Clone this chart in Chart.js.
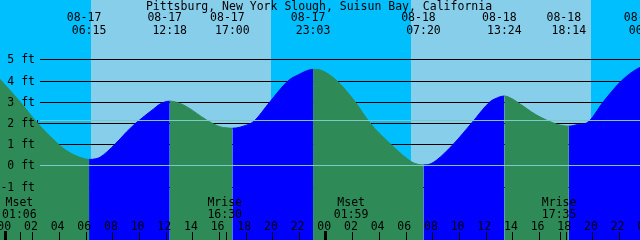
<!DOCTYPE html>
<html>
<head>
<meta charset="utf-8">
<script src="https://cdn.jsdelivr.net/npm/chart.js@4.4.0/dist/chart.umd.min.js"></script>
<style>
  body { margin: 0; background: #00bfff; }
  canvas { display: block; }
</style>
</head>
<body>
<canvas id="tideChart" width="640" height="240"></canvas>
<script>
const TITLE = 'Pittsburg, New York Slough, Suisun Bay, California';

// hours since 08-17 00:00 and tide height in ft
const tideHours = [-0.43, 1.07, 2.37, 3.95, 4.57, 5.32, 5.8, 6.25,
  6.75, 7.07, 8.2, 9.07, 9.77, 11.07, 11.57, 12.3,
  13.07, 13.57, 15.07, 16.07, 16.57, 17.0,
  17.57, 17.82, 18.55, 19.82, 21.2, 22.07, 22.57, 23.05,
  23.57, 24.82, 26.2, 27.32, 28.87, 30.07, 30.57, 31.33,
  31.82, 32.32, 33.57, 34.95, 36.32, 36.7, 37.4,
  37.95, 38.33, 39.82, 41.07, 41.57, 42.23,
  42.95, 43.57, 44.82, 46.2, 47.57, 48.1];
const tideFeet = [4.06, 3.0, 2.0, 1.0, 0.69, 0.44, 0.33, 0.28,
  0.31, 0.38, 1.0, 1.58, 2.0, 2.65, 2.89, 3.03,
  2.92, 2.77, 2.14, 1.82, 1.77, 1.75,
  1.8, 1.85, 2.05, 3.0, 4.0, 4.31, 4.46, 4.53,
  4.5, 4.0, 3.0, 2.0, 1.0, 0.33, 0.12, 0.02,
  0.06, 0.25, 1.0, 2.0, 3.0, 3.14, 3.27,
  3.15, 3.0, 2.37, 2.0, 1.9, 1.85,
  1.93, 2.0, 3.0, 4.0, 4.62, 4.68];

// highs and lows labelled along the top
const eventHours = [6.25, 12.3, 17.0, 23.05, 31.33, 37.4, 42.23, 48.03];
const eventDates = ['08-17', '08-17', '08-17', '08-17', '08-18', '08-18', '08-18', '08-19'];
const eventTimes = ['06:15', '12:18', '17:00', '23:03', '07:20', '13:24', '18:14', '00:02'];

// moon rise / set along the bottom
const moonHours = [1.1, 16.5, 25.98, 41.58];
const moonNames = ['Mset', 'Mrise', 'Mset', 'Mrise'];
const moonTimes = ['01:06', '16:30', '01:59', '17:35'];

// daylight
const sunUp = [6.4, 30.4];
const sunDown = [19.9, 43.9];

const ftLevels = [-1, 0, 1, 2, 3, 4, 5];
const meanLevel = 2.12;
const hourTicks = [];
for (let h = 0; h <= 48; h += 2) hourTicks.push(h);

const NIGHT = '#00bfff';
const DAY = '#87ceeb';
const RISE = '#0000ff';
const FALL = '#2e8b57';
const DATUM = '#7fc8c8';
const FONT = '11.5px "DejaVu Sans Mono"';

const tidePainter = {
  id: 'tidePainter',
  beforeDatasetsDraw(chart) {
    const {ctx, chartArea: a, scales: {x, y}} = chart;
    ctx.save();
    ctx.fillStyle = NIGHT;
    ctx.fillRect(a.left, a.top, a.width, a.height);
    ctx.fillStyle = DAY;
    sunUp.forEach((h, i) => {
      const x0 = Math.round(x.getPixelForValue(h));
      const x1 = Math.round(x.getPixelForValue(sunDown[i]));
      ctx.fillRect(x0, a.top, x1 - x0, a.height);
    });
    ctx.fillStyle = '#000';
    ftLevels.filter(f => f !== 0).forEach(f => {
      const py = Math.round(y.getPixelForValue(f));
      ctx.fillRect(f === 2 ? 35 : 40, py, a.right, 1);
      if (f === 2) ctx.fillRect(37, py - 3, 1, 7);
    });
    ctx.restore();
  },
  afterDatasetsDraw(chart) {
    const {ctx, chartArea: a, scales: {x, y}} = chart;
    ctx.save();
    // datum and mean level lines
    ctx.fillStyle = DATUM;
    [0, meanLevel].forEach(f => {
      ctx.fillRect(40, Math.round(y.getPixelForValue(f)), a.right, 1);
    });

    ctx.font = FONT;
    ctx.fillStyle = '#000';
    ctx.textBaseline = 'alphabetic';

    // title
    ctx.textAlign = 'center';
    ctx.fillText(TITLE, 319, 10);

    // high / low times
    eventHours.forEach((h, i) => {
      const px = x.getPixelForValue(h);
      ctx.fillText(eventDates[i], px - 5, 21);
      ctx.fillText(eventTimes[i], px, 33.5);
    });

    // ft labels
    ctx.textAlign = 'right';
    ftLevels.forEach(f => {
      ctx.fillText(f + ' ft', 35, Math.round(y.getPixelForValue(f)) + 4);
    });

    // moon events
    ctx.textAlign = 'center';
    moonHours.forEach((h, i) => {
      const px = x.getPixelForValue(h);
      ctx.fillText(moonNames[i], px - 1, 206);
      ctx.fillText(moonTimes[i], px - 1, 217.5);
      ctx.fillRect(Math.round(px), 232, 1, 8);
    });

    // hour labels and ticks
    hourTicks.forEach(h => {
      const px = x.getPixelForValue(h);
      ctx.fillText(String(h % 24).padStart(2, '0'), px - 1.5, 229.5);
      if (h % 24 === 0) ctx.fillRect(Math.round(px) - 2, 231, 3, 9);
      else ctx.fillRect(Math.round(px), 232, 1, 8);
    });
    ctx.restore();
  }
};

const tideColor = c => c.p1.parsed.y > c.p0.parsed.y ? RISE : FALL;

new Chart(document.getElementById('tideChart'), {
  type: 'line',
  data: {
    datasets: [{
      label: 'Tide (ft)',
      data: tideHours.map((h, i) => ({x: h, y: tideFeet[i]})),
      fill: 'start',
      borderWidth: 1,
      pointRadius: 0,
      cubicInterpolationMode: 'monotone',
      segment: {
        backgroundColor: tideColor,
        borderColor: tideColor
      }
    }]
  },
  options: {
    responsive: false,
    animation: false,
    layout: { padding: 0 },
    plugins: { legend: { display: false }, tooltip: { enabled: false } },
    scales: {
      x: { type: 'linear', min: -0.43, max: 47.57, display: false },
      y: { min: -3.52, max: 7.8, display: false }
    }
  },
  plugins: [tidePainter]
});
</script>
</body>
</html>
